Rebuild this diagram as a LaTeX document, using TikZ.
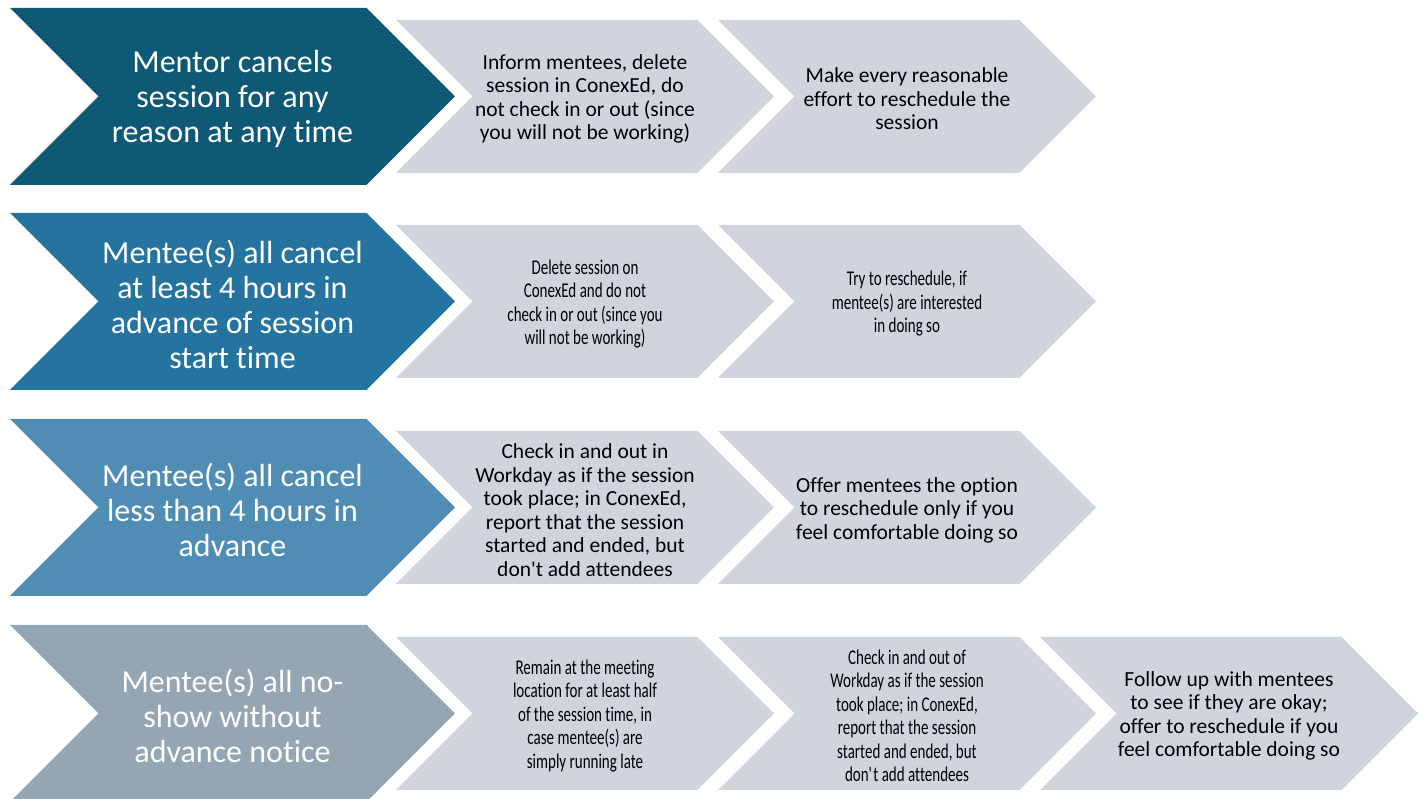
\documentclass[tikz,border=0pt]{standalone}
\usepackage{fontspec}
\setmainfont{Carlito}[Ligatures={TeX,NoCommon}]
\newfontfamily\condfont{Carlito}[FakeStretch=0.715,Ligatures={TeX,NoCommon}]
\definecolor{rowA}{RGB}{14,89,117}
\definecolor{rowB}{RGB}{37,116,159}
\definecolor{rowC}{RGB}{80,141,181}
\definecolor{rowD}{RGB}{148,166,180}
\definecolor{stepgray}{RGB}{208,213,221}
% #1 left x, #2 top y (image px), #3 width to tip, #4 height, #5 colour
\newcommand{\chevshape}[5]{%
  \fill[#5] (#1,{799-#2}) -- ++({#3-#4/2},0) -- ++({#4/2},{-#4/2}) -- ++({-#4/2},{-#4/2})
     -- ++({-#3+#4/2},0) -- ++({#4/2},{#4/2}) -- cycle;}
\tikzset{
  bigtext/.style={text=white, align=center, font=\fontsize{32}{35}\selectfont, inner sep=0pt, yshift=-2.5pt},
  smalltext/.style={text=black, align=center, font=\fontsize{21.5}{23.5}\selectfont, inner sep=0pt, yshift=-2.5pt},
  condtext/.style={text=black, align=center, font=\condfont\fontsize{21}{23.5}\selectfont, inner sep=0pt, yshift=-2.5pt}
}
\begin{document}
\begin{tikzpicture}[x=1pt,y=1pt]
\useasboundingbox (0,0) rectangle (1425,799);
\clip (0,0) rectangle (1425,799);
% Row 1
\chevshape{10}{8}{445}{177}{rowA}
\chevshape{396}{20}{378}{153}{stepgray}
\chevshape{718}{20}{378}{153}{stepgray}
\node[bigtext] (a0) at (232.5,{799-96.5}) {Mentor cancels\\session for any\\reason at any time};
\node[smalltext] (a1) at (585,{799-96.5}) {Inform mentees, delete\\session in ConexEd, do\\not check in or out (since\\you will not be working)};
\node[smalltext] (a2) at (907,{799-96.5}) {Make every reasonable\\effort to reschedule the\\session};
% Row 2
\chevshape{10}{213}{445}{177}{rowB}
\chevshape{396}{225}{378}{153}{stepgray}
\chevshape{718}{225}{378}{153}{stepgray}
\node[bigtext] (b0) at (232.5,{799-301.5}) {Mentee(s) all cancel\\at least 4 hours in\\advance of session\\start time};
\node[condtext] (b1) at (585,{799-301.5}) {Delete session on\\ConexEd and do not\\check in or out (since you\\will not be working)};
\node[condtext] (b2) at (907,{799-301.5}) {Try to reschedule, if\\mentee(s) are interested\\in doing so};
% Row 3
\chevshape{10}{419}{445}{177}{rowC}
\chevshape{396}{431}{378}{153}{stepgray}
\chevshape{718}{431}{378}{153}{stepgray}
\node[bigtext] (c0) at (232.5,{799-507.5}) {Mentee(s) all cancel\\less than 4 hours in\\advance};
\node[smalltext] (c1) at (585,{799-507.5}) {Check in and out in\\Workday as if the session\\took place; in ConexEd,\\report that the session\\started and ended, but\\don\textquotesingle t add attendees};
\node[smalltext] (c2) at (907,{799-507.5}) {Offer mentees the option\\to reschedule only if you\\feel comfortable doing so};
% Row 4
\chevshape{10}{625}{445}{177}{rowD}
\chevshape{396}{637}{378}{153}{stepgray}
\chevshape{718}{637}{378}{153}{stepgray}
\chevshape{1040}{637}{378}{153}{stepgray}
\node[bigtext] (d0) at (232.5,{799-713.5}) {Mentee(s) all no-\\show without\\advance notice};
\node[condtext] (d1) at (585,{799-713.5}) {Remain at the meeting\\location for at least half\\of the session time, in\\case mentee(s) are\\simply running late};
\node[condtext] (d2) at (907,{799-713.5}) {Check in and out of\\Workday as if the session\\took place; in ConexEd,\\report that the session\\started and ended, but\\don\textquotesingle t add attendees};
\node[smalltext] (d3) at (1229,{799-713.5}) {Follow up with mentees\\to see if they are okay;\\offer to reschedule if you\\feel comfortable doing so};
\end{tikzpicture}
\end{document}
